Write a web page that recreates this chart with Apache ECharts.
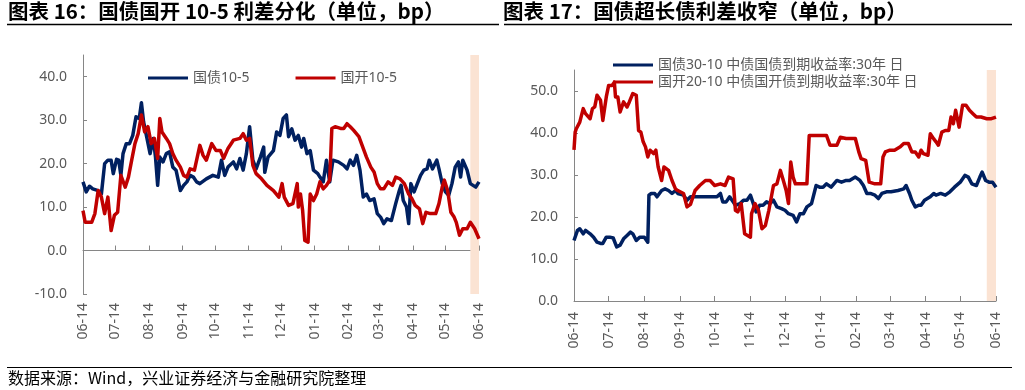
<!DOCTYPE html>
<html>
<head>
<meta charset="utf-8">
<script src="https://cdn.jsdelivr.net/npm/echarts@6/dist/echarts.min.js"></script>
<style>
html, body { margin: 0; padding: 0; background: #fff; }
#container { width: 1025px; height: 390px; }
</style>
</head>
<body>
<div id="container"></div>
<script>
// 每个点: [距 2023-06-14 的天数, 利差 bp]
var gz105 = [
  [0,15.8],[3,13.5],[6,14.8],[9,14.2],[14,13.8],[17,13.0],[20,20.0],[23,20.8],[26,20.8],[28,17.7],
  [31,21.0],[33,20.8],[35,17.3],[37,22.3],[40,24.6],[43,24.6],[46,26.5],[49,30.8],[52,30.4],[54,34.0],
  [56,29.6],[59,26.0],[62,22.3],[65,25.8],[67,21.5],[69,15.0],[71,21.5],[74,20.4],[77,22.3],[80,22.7],
  [83,19.2],[86,18.5],[90,13.8],[93,15.0],[96,15.8],[99,17.3],[102,16.9],[105,15.8],[108,15.4],[114,16.5],
  [120,17.3],[125,16.9],[128,20.8],[131,17.3],[134,19.2],[139,20.4],[142,18.8],[145,21.2],[148,18.5],[151,22.3],
  [154,28.5],[157,20.8],[160,18.8],[164,21.5],[167,23.8],[168,18.0],[171,21.5],[176,23.0],[179,27.3],[182,26.5],
  [185,30.4],[188,31.2],[190,26.2],[193,28.0],[196,25.4],[199,26.5],[202,23.8],[204,25.8],[207,22.3],[210,23.0],
  [213,18.5],[217,17.7],[219,16.9],[222,15.8],[225,20.8],[228,15.8],[231,20.8],[236,20.4],[241,19.6],[244,18.8],
  [247,20.8],[250,19.6],[253,21.9],[256,18.5],[259,12.3],[262,13.0],[265,11.5],[269,11.9],[272,8.5],[275,7.7],
  [278,6.2],[281,7.3],[285,6.9],[289,10.8],[292,13.5],[294,15.0],[296,11.5],[299,10.0],[301,6.2],[303,15.4],
  [306,13.5],[309,15.4],[312,17.3],[315,18.5],[318,18.8],[320,20.8],[323,18.8],[327,20.8],[329,18.8],[332,15.4],
  [335,13.5],[338,12.7],[341,15.4],[344,19.2],[347,20.4],[349,16.9],[351,20.8],[355,18.5],[358,15.4],[363,14.6],
  [366,15.8]
];
var gk105 = [
  [0,9.2],[2,6.5],[8,6.5],[11,8.5],[14,13.8],[17,12.3],[20,8.5],[23,12.3],[26,4.6],[29,8.1],
  [32,8.8],[35,17.3],[39,14.6],[42,16.9],[45,20.8],[48,24.6],[51,26.9],[54,31.2],[57,27.3],[60,28.5],
  [63,24.6],[66,25.8],[69,21.2],[71,30.4],[73,27.3],[77,25.8],[80,24.6],[83,22.3],[86,20.8],[90,19.2],
  [93,17.3],[96,16.9],[99,18.8],[103,18.5],[108,24.2],[111,21.9],[114,20.8],[119,24.6],[123,23.0],[127,23.0],
  [130,21.2],[134,23.5],[139,25.4],[145,25.8],[148,26.9],[151,25.4],[154,25.8],[157,19.6],[160,17.7],[165,16.5],
  [170,15.0],[176,13.8],[181,12.3],[184,15.4],[186,12.3],[190,10.4],[194,10.8],[198,15.4],[199,10.0],[201,13.0],
  [203,9.2],[205,2.3],[208,1.9],[210,13.0],[213,11.5],[216,13.0],[219,15.8],[222,14.2],[225,15.0],[228,16.2],
  [230,28.1],[233,28.5],[238,28.1],[241,28.1],[244,29.2],[247,28.5],[250,27.7],[255,26.2],[259,23.5],[262,21.5],
  [266,19.2],[269,18.1],[272,15.4],[275,14.2],[278,14.2],[282,15.8],[286,15.0],[289,16.9],[293,16.5],[297,15.4],
  [301,13.0],[304,11.9],[307,10.4],[311,9.6],[314,6.2],[317,8.8],[321,8.5],[326,8.5],[329,10.8],[332,14.6],
  [334,16.2],[337,13.8],[340,8.8],[343,7.7],[345,6.5],[348,3.5],[351,5.0],[355,5.0],[358,6.5],[362,5.0],
  [366,2.7]
];
var gz3010 = [
  [0,14.4],[3,16.8],[5,17.2],[8,16.0],[10,16.8],[14,16.0],[17,15.2],[20,14.0],[23,13.7],[25,13.7],
  [28,15.2],[31,15.2],[34,15.0],[37,12.9],[40,13.3],[43,14.8],[46,15.6],[49,16.4],[51,16.0],[54,14.4],
  [57,15.2],[61,15.2],[64,14.0],[65,25.2],[67,25.6],[70,25.6],[72,24.8],[76,26.3],[79,26.7],[82,26.3],
  [85,25.6],[88,26.3],[90,25.6],[95,25.2],[98,24.0],[101,24.8],[108,24.8],[118,24.8],[124,24.8],[127,25.6],
  [129,23.6],[132,23.6],[135,24.8],[138,23.6],[140,22.8],[144,23.2],[147,24.0],[150,24.0],[153,25.2],[155,23.6],
  [158,21.2],[161,22.8],[164,22.8],[167,23.6],[170,23.2],[173,24.0],[176,22.4],[180,22.0],[183,21.6],[186,20.8],
  [190,20.4],[193,18.8],[196,20.8],[199,20.8],[202,22.4],[206,23.2],[210,27.5],[213,27.1],[216,27.1],[219,27.9],
  [223,27.1],[228,28.7],[232,28.3],[236,28.7],[239,28.7],[244,29.5],[248,28.7],[251,27.5],[254,25.6],[257,25.6],
  [261,25.2],[264,24.4],[267,25.6],[271,26.0],[275,26.0],[281,26.3],[286,26.7],[288,27.5],[291,25.6],[293,24.0],
  [296,22.4],[299,22.8],[301,22.8],[304,24.0],[309,24.8],[312,25.6],[314,25.2],[318,25.6],[322,25.2],[326,26.0],
  [330,27.1],[335,28.3],[339,29.9],[342,29.5],[345,27.9],[349,27.5],[352,29.5],[354,30.7],[357,28.7],[360,28.3],
  [363,28.3],[366,27.1]
];
var gk2010 = [
  [0,36.0],[1,40.2],[2,41.0],[5,42.6],[8,45.8],[10,44.6],[14,43.4],[16,45.8],[18,46.2],[20,49.0],
  [23,47.8],[25,43.0],[28,48.6],[30,51.3],[33,51.3],[35,52.1],[36,48.6],[38,48.6],[40,45.0],[43,47.4],
  [46,46.2],[48,47.4],[51,49.4],[54,49.0],[56,40.6],[58,40.2],[60,37.9],[62,36.7],[64,34.3],[66,35.9],
  [69,35.1],[71,35.9],[73,31.9],[76,28.7],[78,31.9],[82,31.1],[85,28.7],[88,26.7],[90,26.3],[95,25.6],
  [98,22.4],[101,23.0],[105,26.3],[109,27.5],[114,28.7],[118,28.7],[122,27.5],[127,27.9],[131,27.5],[134,29.5],
  [138,29.1],[140,21.6],[142,21.2],[145,23.2],[148,16.0],[153,15.2],[154,20.8],[157,23.2],[160,21.6],[163,17.2],
  [166,18.0],[169,21.6],[173,27.5],[176,27.9],[179,31.1],[182,28.3],[184,26.3],[186,23.2],[188,33.1],[190,29.5],
  [192,27.9],[196,27.9],[202,27.9],[204,39.4],[210,39.4],[219,39.4],[222,37.1],[228,37.1],[231,39.0],[236,38.7],
  [244,38.7],[247,35.5],[249,33.9],[253,33.5],[256,28.3],[261,27.9],[266,27.9],[268,34.3],[270,35.5],[274,35.9],
  [278,35.9],[283,36.7],[286,37.5],[290,37.5],[293,35.5],[296,35.5],[299,34.3],[301,35.9],[303,35.1],[307,34.7],
  [309,39.8],[312,38.6],[314,37.9],[316,37.1],[319,40.2],[322,40.6],[325,40.6],[327,43.8],[329,42.2],[331,45.4],
  [334,41.4],[337,46.6],[340,46.6],[343,45.4],[346,44.6],[349,43.8],[353,43.8],[358,43.4],[362,43.4],[366,43.8]
];
var bandDays = [358, 366];
var leftTicks = [-10, 45, 10];
var rightTicks = [0, 55, 10];

var days = [];
for (var i = 0; i <= 366; i++) {
    var d = new Date(2023, 5, 14 + i);
    var m = d.getMonth() + 1, dd = d.getDate();
    days.push(d.getFullYear() + '-' + (m < 10 ? '0' + m : m) + '-' + (dd < 10 ? '0' + dd : dd));
}
var on14 = function (idx, val) { return val.slice(8) === '14'; };

var font = "'Noto Sans', 'Noto Sans CJK SC', sans-serif";
var grey = '#595959';
var axisGrey = '#868686';

var xLabel = {
    rotate: 90, interval: on14, color: grey, fontSize: 14, fontFamily: font,
    formatter: function (v) { return v.slice(5); }
};
var yLabel = function () {
    return { color: grey, fontSize: 14, fontFamily: font, margin: 16, showMaxLabel: false,
        formatter: function (v) { return v.toFixed(1); } };
};

var dom = document.getElementById('container');
var myChart = echarts.init(dom);
var option = {
    animation: false,
    textStyle: { fontFamily: font },
    graphic: [
        { type: 'text', left: 8, top: 1, style: { text: '图表 16：国债国开 10-5 利差分化（单位，bp）', fontSize: 20.5, fontWeight: 'bold', fontFamily: "'Noto Sans CJK SC'", fill: '#000' } },
        { type: 'text', left: 503, top: 1, style: { text: '图表 17：国债超长债利差收窄（单位，bp）', fontSize: 20.5, fontWeight: 'bold', fontFamily: "'Noto Sans CJK SC'", fill: '#000' } },
        { type: 'line', shape: { x1: 7, y1: 24.5, x2: 499, y2: 24.5 }, style: { stroke: '#000', lineWidth: 1.5 } },
        { type: 'line', shape: { x1: 504, y1: 24.5, x2: 1012, y2: 24.5 }, style: { stroke: '#000', lineWidth: 1.5 } },
        { type: 'line', shape: { x1: 7, y1: 367.5, x2: 1012, y2: 367.5 }, style: { stroke: '#000', lineWidth: 1.2 } },
        { type: 'text', left: 8, top: 370, style: { text: '数据来源：Wind，兴业证券经济与金融研究院整理', fontSize: 16, fontFamily: "'Noto Sans CJK SC'", fill: '#000' } }
    ],
    legend: [
        {
            data: ['国债10-5', '国开10-5'], left: 143, top: 66, icon: 'rect',
            itemWidth: 40, itemHeight: 3, itemGap: 46,
            textStyle: { color: grey, fontSize: 14, fontFamily: font }
        },
        {
            data: ['国债30-10 中债国债到期收益率:30年 日', '国开20-10 中债国开债到期收益率:30年 日'],
            orient: 'vertical', left: 608, top: 53, icon: 'rect',
            itemWidth: 40, itemHeight: 3, itemGap: 3,
            textStyle: { color: grey, fontSize: 14, fontFamily: font }
        }
    ],
    grid: [
        { left: 83, top: 55, width: 396, height: 239 },
        { left: 574, top: 70, width: 422, height: 231 }
    ],
    xAxis: [
        {
            gridIndex: 0, type: 'category', data: days, boundaryGap: false,
            axisLine: { show: false, onZero: false }, axisTick: { show: false },
            axisLabel: Object.assign({ margin: 9 }, xLabel)
        },
        {
            gridIndex: 0, type: 'category', data: days, boundaryGap: false, position: 'bottom',
            axisLine: { onZero: true, lineStyle: { color: axisGrey, width: 1 } },
            axisTick: { inside: true, length: 5, interval: on14, lineStyle: { color: axisGrey } },
            axisLabel: { show: false }
        },
        {
            gridIndex: 1, type: 'category', data: days, boundaryGap: false,
            axisLine: { lineStyle: { color: axisGrey, width: 1 } },
            axisTick: { inside: true, length: 5, interval: on14, lineStyle: { color: axisGrey } },
            axisLabel: Object.assign({ margin: 11 }, xLabel)
        }
    ],
    yAxis: [
        {
            gridIndex: 0, type: 'value', min: leftTicks[0], max: leftTicks[1], interval: leftTicks[2],
            splitLine: { show: false },
            axisLine: { show: true, lineStyle: { color: axisGrey } },
            axisTick: { show: true, inside: true, length: 4, lineStyle: { color: axisGrey } },
            axisLabel: yLabel()
        },
        {
            gridIndex: 1, type: 'value', min: rightTicks[0], max: rightTicks[1], interval: rightTicks[2],
            splitLine: { show: false },
            axisLine: { show: true, lineStyle: { color: axisGrey } },
            axisTick: { show: true, inside: true, length: 4, lineStyle: { color: axisGrey } },
            axisLabel: yLabel()
        }
    ],
    series: [
        {
            name: '国债10-5', type: 'line', xAxisIndex: 0, yAxisIndex: 0, data: gz105,
            showSymbol: false, symbol: 'none', color: '#002060',
            lineStyle: { width: 3.5, color: '#002060', join: 'round' },
            markArea: {
                silent: true, itemStyle: { color: '#FBE3D3' },
                data: [[{ xAxis: bandDays[0] }, { xAxis: bandDays[1] }]]
            },
            z: 2
        },
        {
            name: '国开10-5', type: 'line', xAxisIndex: 0, yAxisIndex: 0, data: gk105,
            showSymbol: false, symbol: 'none', color: '#C00000',
            lineStyle: { width: 3.5, color: '#C00000', join: 'round' }, z: 3
        },
        {
            name: '国债30-10 中债国债到期收益率:30年 日', type: 'line', xAxisIndex: 2, yAxisIndex: 1, data: gz3010,
            showSymbol: false, symbol: 'none', color: '#002060',
            lineStyle: { width: 3.5, color: '#002060', join: 'round' },
            markArea: {
                silent: true, itemStyle: { color: '#FBE3D3' },
                data: [[{ xAxis: bandDays[0] }, { xAxis: bandDays[1] }]]
            },
            z: 2
        },
        {
            name: '国开20-10 中债国开债到期收益率:30年 日', type: 'line', xAxisIndex: 2, yAxisIndex: 1, data: gk2010,
            showSymbol: false, symbol: 'none', color: '#C00000',
            lineStyle: { width: 3.5, color: '#C00000', join: 'round' }, z: 3
        }
    ]
};
myChart.setOption(option);
</script>
</body>
</html>
